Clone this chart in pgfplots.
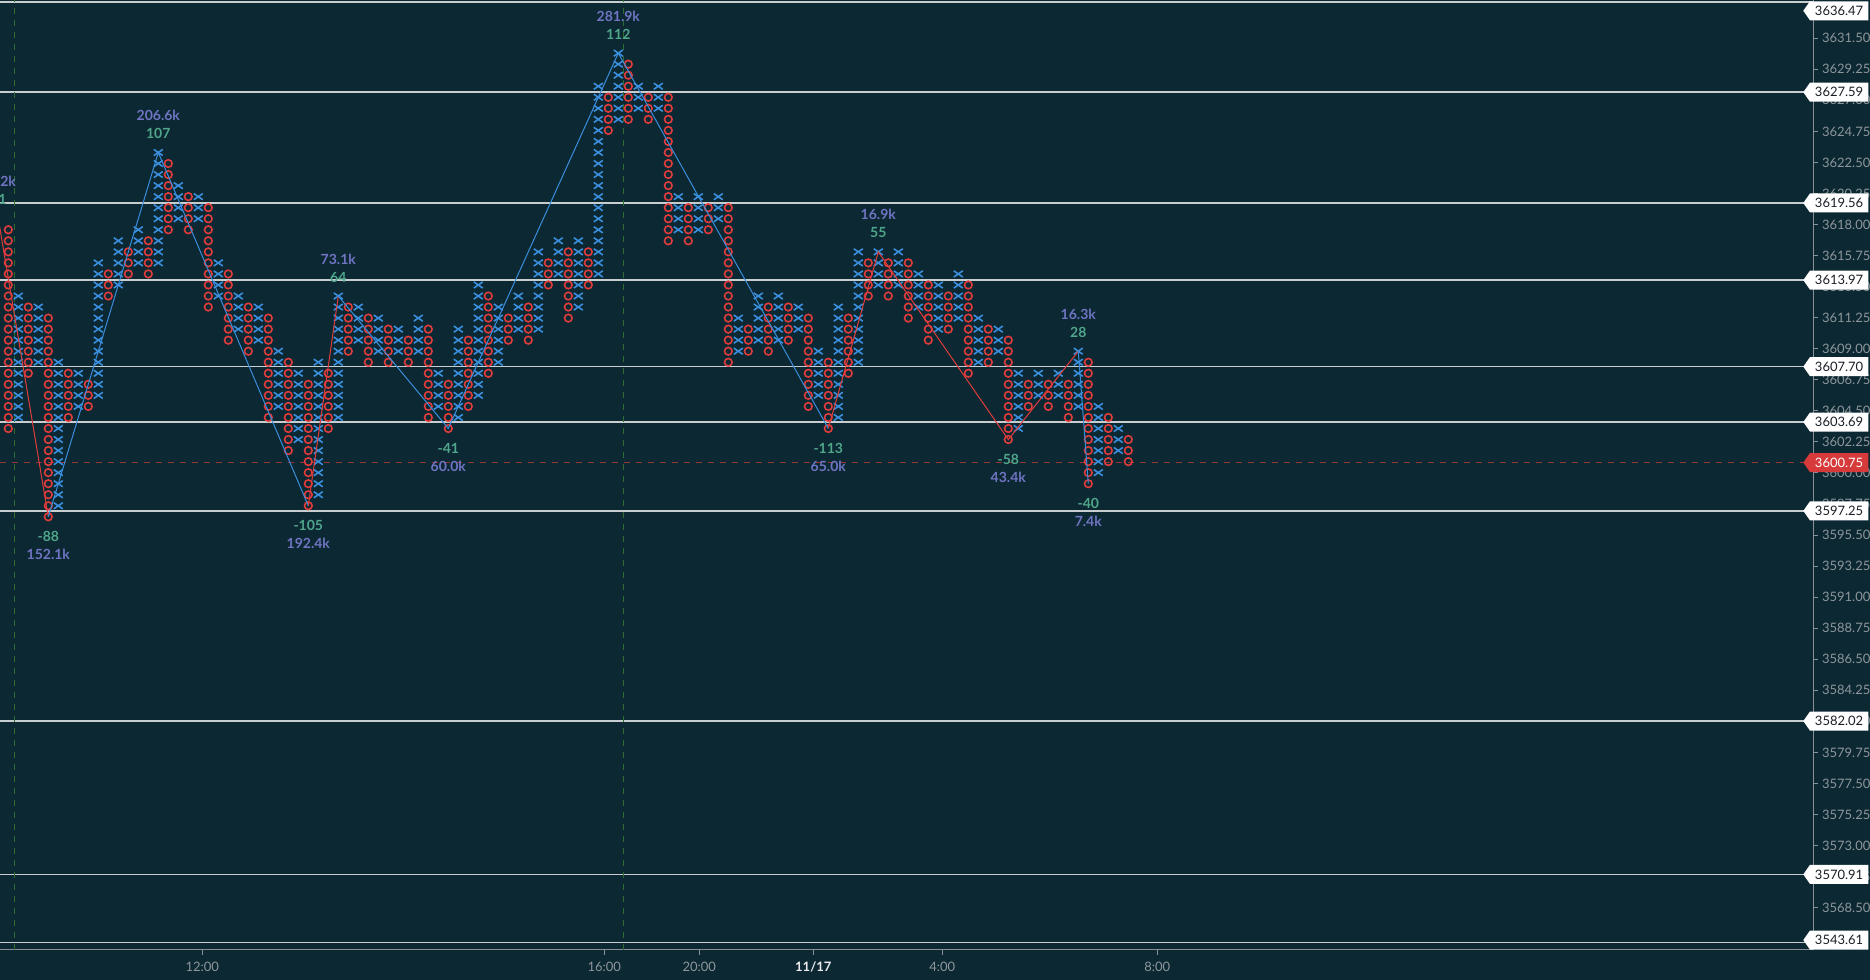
\documentclass[border=0pt]{standalone}
\usepackage{pgfplots}
\pgfplotsset{compat=1.18}
\usepackage{pgfplotstable}
\usepackage{fontspec}
\setmainfont{Lato}
\usetikzlibrary{shapes.symbols}

\definecolor{bg}{HTML}{0B2833}
\definecolor{xblue}{HTML}{3A8EDB}
\definecolor{ored}{HTML}{E03C3C}
\definecolor{volc}{HTML}{7074C2}
\definecolor{cntc}{HTML}{4FA68A}
\definecolor{lvl}{HTML}{C8CDD0}
\definecolor{axg}{HTML}{8A9196}
\definecolor{tkl}{HTML}{8E969B}
\definecolor{gdash}{HTML}{2E6B30}
\definecolor{rdash}{HTML}{9A3535}
\definecolor{lbltxt}{HTML}{1A1E26}
\definecolor{lblred}{HTML}{D63A3A}

% wide X mark
\pgfdeclareplotmark{wx}{%
  \pgfpathmoveto{\pgfqpoint{-1.45\pgfplotmarksize}{-\pgfplotmarksize}}%
  \pgfpathlineto{\pgfqpoint{1.45\pgfplotmarksize}{\pgfplotmarksize}}%
  \pgfpathmoveto{\pgfqpoint{-1.45\pgfplotmarksize}{\pgfplotmarksize}}%
  \pgfpathlineto{\pgfqpoint{1.45\pgfplotmarksize}{-\pgfplotmarksize}}%
  \pgfusepathqstroke}

% point & figure columns: k = column, t = 1 (X) / 0 (O), lo / hi = box rows
\pgfplotstableread{
k t lo hi
0 1 9 27
1 0 8 26
2 1 9 20
3 0 13 19
4 1 14 19
5 0 0 18
6 1 1 14
7 0 9 13
8 1 10 13
9 0 10 12
10 1 11 23
11 0 20 22
12 1 21 25
13 0 22 24
14 1 23 26
15 0 22 25
16 1 23 33
17 0 26 32
18 1 27 30
19 0 26 29
20 1 27 29
21 0 19 28
22 1 20 23
23 0 16 22
24 1 17 20
25 0 15 19
26 1 16 19
27 0 9 18
28 1 10 15
29 0 6 14
30 1 7 13
31 0 1 12
32 1 2 14
33 0 8 13
34 1 9 20
35 0 15 19
36 1 16 19
37 0 14 18
38 1 15 18
39 0 14 17
40 1 15 17
41 0 14 16
42 1 15 18
43 0 9 17
44 1 10 13
45 0 8 12
46 1 9 17
47 0 10 16
48 1 11 21
49 0 13 20
50 1 14 19
51 0 16 18
52 1 17 20
53 0 16 19
54 1 17 24
55 0 21 23
56 1 22 25
57 0 18 24
58 1 19 25
59 0 21 24
60 1 22 39
61 0 35 38
62 1 36 42
63 0 36 41
64 1 37 39
65 0 36 38
66 1 37 39
67 0 25 38
68 1 26 29
69 0 25 28
70 1 26 29
71 0 26 28
72 1 27 29
73 0 14 28
74 1 15 18
75 0 15 17
76 1 16 20
77 0 15 19
78 1 16 20
79 0 16 19
80 1 17 19
81 0 10 18
82 1 11 15
83 0 8 14
84 1 9 19
85 0 13 18
86 1 14 24
87 0 20 23
88 1 21 24
89 0 20 23
90 1 21 24
91 0 18 23
92 1 19 22
93 0 16 21
94 1 17 21
95 0 17 20
96 1 18 22
97 0 13 21
98 1 14 18
99 0 14 17
100 1 15 17
101 0 7 16
102 1 8 13
103 0 10 12
104 1 11 13
105 0 10 12
106 1 11 13
107 0 9 12
108 1 10 15
109 0 3 14
110 1 4 10
111 0 5 9
112 1 6 8
113 0 5 7
}\cols

\newcommand\peak[4]{%
  \node[font=\fontsize{7}{8}\selectfont\bfseries, text=cntc] at (axis cs:#1,#2) [yshift=9.5pt] {#3};
  \node[font=\fontsize{7}{8}\selectfont\bfseries, text=volc] at (axis cs:#1,#2) [yshift=18.5pt] {#4};
}
\newcommand\trough[4]{%
  \node[font=\fontsize{7}{8}\selectfont\bfseries, text=cntc] at (axis cs:#1,#2) [yshift=-9.8pt] {#3};
  \node[font=\fontsize{7}{8}\selectfont\bfseries, text=volc] at (axis cs:#1,#2) [yshift=-18.8pt] {#4};
}

\begin{document}
\begin{tikzpicture}
\path[use as bounding box, fill=bg] (0,0) rectangle (935pt,490pt);
% build box coordinates from the column table
\gdef\Xc{}\gdef\Oc{}
\pgfplotstablegetrowsof{\cols}
\pgfmathtruncatemacro\nrows{\pgfplotsretval-1}
\foreach \r in {0,...,\nrows}{%
  \pgfplotstablegetelem{\r}{k}\of\cols \edef\ck{\pgfplotsretval}%
  \pgfplotstablegetelem{\r}{t}\of\cols \edef\ct{\pgfplotsretval}%
  \pgfplotstablegetelem{\r}{lo}\of\cols \edef\clo{\pgfplotsretval}%
  \pgfplotstablegetelem{\r}{hi}\of\cols \edef\chh{\pgfplotsretval}%
  \foreach \n in {\clo,...,\chh}{%
    \pgfmathsetmacro\py{3596.82+0.8*\n}%
    \ifnum\ct=1 \xdef\Xc{\Xc(\ck,\py)}\else\xdef\Oc{\Oc(\ck,\py)}\fi
  }%
}
\def\plotX{\addplot[only marks, mark=wx, mark size=1.55pt, mark options={draw=xblue, line width=0.8pt}] coordinates}
\def\plotO{\addplot[only marks, mark=o, mark size=1.9pt, mark options={draw=ored, line width=0.8pt}] coordinates}
\begin{axis}[
  at={(0pt,15pt)}, anchor=south west,
  scale only axis, width=906.5pt, height=475pt,
  xmin=0.17, xmax=181.47, ymin=3565.43, ymax=3634.27,
  axis x line*=bottom, axis y line*=right,
  axis line style={draw=axg, line width=0.5pt},
  tick align=outside, major tick length=2.5pt,
  tick style={draw=axg, line width=0.5pt},
  clip mode=individual,
  xtick={20.4,60.6,70.1,81.5,94.4,115.9},
  xticklabels={12:00,16:00,20:00,{\textcolor{white!85!gray}{\bfseries 11/17}},4:00,8:00},
  ytick={3568.5,3570.75,3573,3575.25,3577.5,3579.75,3582,3584.25,3586.5,3588.75,3591,3593.25,3595.5,3597.75,3600,3602.25,3604.5,3606.75,3609,3611.25,3613.5,3615.75,3618,3620.25,3622.5,3624.75,3627,3629.25,3631.5},
  yticklabels={3568.50,3570.75,3573.00,3575.25,3577.50,3579.75,3582.00,3584.25,3586.50,3588.75,3591.00,3593.25,3595.50,3597.75,3600.00,3602.25,3604.50,3606.75,3609.00,3611.25,3613.50,3615.75,3618.00,3620.25,3622.50,3624.75,3627.00,3629.25,3631.50},
  ticklabel style={font=\fontsize{6.5}{7}\selectfont, text=tkl},
  yticklabel style={xshift=-1.5pt},
]
% level lines
\draw[lvl, line width=0.7pt] (axis cs:0.17,3627.59) -- (axis cs:181.47,3627.59);
\draw[lvl, line width=0.7pt] (axis cs:0.17,3619.56) -- (axis cs:181.47,3619.56);
\draw[lvl, line width=0.7pt] (axis cs:0.17,3613.97) -- (axis cs:181.47,3613.97);
\draw[lvl, line width=0.7pt] (axis cs:0.17,3607.70) -- (axis cs:181.47,3607.70);
\draw[lvl, line width=0.7pt] (axis cs:0.17,3603.69) -- (axis cs:181.47,3603.69);
\draw[lvl, line width=0.7pt] (axis cs:0.17,3597.25) -- (axis cs:181.47,3597.25);
\draw[lvl, line width=0.7pt] (axis cs:0.17,3582.02) -- (axis cs:181.47,3582.02);
\draw[lvl, line width=0.7pt] (axis cs:0.17,3570.91) -- (axis cs:181.47,3570.91);
\draw[lvl, line width=0.7pt] (axis cs:0.17,3634.12) -- (axis cs:181.47,3634.12);
\draw[lvl, line width=0.7pt] (axis cs:0.17,3565.96) -- (axis cs:181.47,3565.96);
% last price
\draw[rdash, line width=0.6pt, dash pattern=on 3pt off 3pt] (axis cs:0.17,3600.75) -- (axis cs:181.47,3600.75);
% session separators
\draw[gdash, line width=0.6pt, dash pattern=on 3pt off 3pt] (axis cs:1.6,3565.43) -- (axis cs:1.6,3634.27);
\draw[gdash, line width=0.6pt, dash pattern=on 3pt off 3pt] (axis cs:62.5,3565.43) -- (axis cs:62.5,3634.27);
% boxes
\expandafter\plotX\expandafter{\Xc};
\expandafter\plotO\expandafter{\Oc};
% swing lines
\addplot[draw=ored, line width=0.5pt, mark=none] coordinates {(0,3618.42)(5,3596.82)};
\addplot[draw=xblue, line width=0.5pt, mark=none] coordinates {(5,3596.82)(16,3623.22)(31,3597.62)};
\addplot[draw=ored, line width=0.5pt, mark=none] coordinates {(31,3597.62)(34,3612.82)};
\addplot[draw=xblue, line width=0.5pt, mark=none] coordinates {(34,3612.82)(45,3603.22)(62,3630.42)(83,3603.22)};
\addplot[draw=ored, line width=0.5pt, mark=none] coordinates {(83,3603.22)(88,3616.02)(101,3602.42)(108,3608.82)};
\addplot[draw=xblue, line width=0.5pt, mark=none] coordinates {(108,3608.82)(109,3599.22)};
% swing annotations
\peak{0}{3618.42}{61}{45.2k}
\trough{5}{3596.82}{-88}{152.1k}
\peak{16}{3623.22}{107}{206.6k}
\trough{31}{3597.62}{-105}{192.4k}
\peak{34}{3612.82}{64}{73.1k}
\trough{45}{3603.22}{-41}{60.0k}
\peak{62}{3630.42}{112}{281.9k}
\trough{83}{3603.22}{-113}{65.0k}
\peak{88}{3616.02}{55}{16.9k}
\trough{101}{3602.42}{-58}{43.4k}
\peak{108}{3608.82}{28}{16.3k}
\trough{109}{3599.22}{-40}{7.4k}
% anchor points of price tags
\coordinate (T1) at (axis cs:180.45,3633.49);
\coordinate (T2) at (axis cs:180.45,3627.59);
\coordinate (T3) at (axis cs:180.45,3619.56);
\coordinate (T4) at (axis cs:180.45,3613.97);
\coordinate (T5) at (axis cs:180.45,3607.70);
\coordinate (T6) at (axis cs:180.45,3603.69);
\coordinate (T7) at (axis cs:180.45,3600.75);
\coordinate (T8) at (axis cs:180.45,3597.25);
\coordinate (T9) at (axis cs:180.45,3582.02);
\coordinate (T10) at (axis cs:180.45,3570.91);
\coordinate (T11) at (axis cs:180.45,3566.15);
\end{axis}
\tikzset{tag/.style={signal, signal to=west, signal pointer angle=110, anchor=west,
  fill=white, text=lbltxt, font=\fontsize{6.5}{7}\selectfont,
  inner xsep=1.5pt, inner ysep=1.8pt, minimum height=9.5pt, minimum width=32.5pt}}
\foreach \c/\t in {T1/3636.47,T2/3627.59,T3/3619.56,T4/3613.97,T5/3607.70,T6/3603.69,T8/3597.25,T9/3582.02,T10/3570.91,T11/3543.61}{
  \node[tag] at (\c) {\t};
}
\node[tag, fill=lblred, text=white] at (T7) {3600.75};
\end{tikzpicture}
\end{document}
